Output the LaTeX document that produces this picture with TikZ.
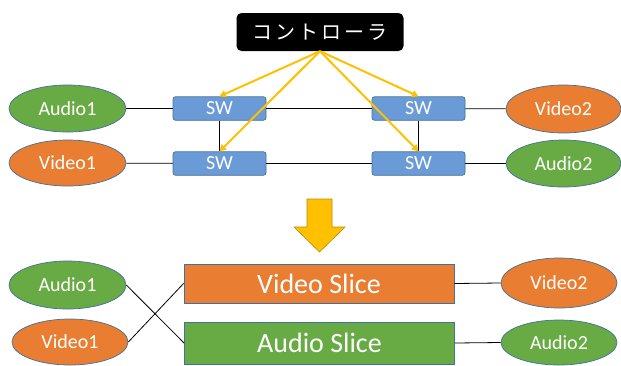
\documentclass[tikz,border=0pt]{standalone}
\usepackage{fontspec}
\setmainfont{Carlito}
\newfontfamily\jpfont{Noto Sans CJK JP}[LetterSpace=15]
\usetikzlibrary{shapes.geometric,arrows.meta}

\definecolor{ofgreen}{HTML}{68AB44}
\definecolor{oforange}{HTML}{E97D31}
\definecolor{ofblue}{HTML}{6A9BD6}
\definecolor{ofedge}{HTML}{41719C}
\definecolor{ofgold}{HTML}{FFC000}
\definecolor{ofgoldedge}{HTML}{BC8C00}

\tikzset{
  every node/.style={text=white, inner sep=0pt},
  ctrlbox/.style={rectangle, rounded corners=5pt, fill=black,
    minimum width=167pt, minimum height=38pt},
  swbox/.style={rectangle, rounded corners=2.5pt, fill=ofblue, draw=ofedge,
    line width=0.7pt, minimum width=93pt, minimum height=23.5pt,
    font=\fontsize{20}{24}\selectfont},
  host/.style={ellipse, draw=ofedge, line width=0.7pt,
    font=\fontsize{20}{24}\selectfont},
  greenhost/.style={host, fill=ofgreen},
  orangehost/.style={host, fill=oforange},
  slicebox/.style={rectangle, draw=ofedge, line width=0.9pt,
    minimum width=270pt, font=\fontsize{28}{32}\selectfont},
  wire/.style={draw=black, line width=0.8pt},
  ctrlarrow/.style={draw=ofgold, line width=2pt,
    -{Triangle[length=6.5pt,width=7pt]}},
}

\begin{document}
\begin{tikzpicture}[x=1pt, y=-1pt]
  \useasboundingbox (0,0) rectangle (621,365);

  % ---- upper network: controller, switches and hosts ----
  \node[ctrlbox] (ctrl) at (320,32) {\jpfont\fontsize{20}{24}\selectfont コントローラ};

  \node[swbox] (swtl) at (219.5,108.5) {SW};
  \node[swbox] (swtr) at (418.5,108.5) {SW};
  \node[swbox] (swbl) at (219.5,163.5) {SW};
  \node[swbox] (swbr) at (418.5,163.5) {SW};

  \node[greenhost,  minimum width=117pt, minimum height=47pt] (a1) at (67.5,108.5) {Audio1};
  \node[orangehost, minimum width=117pt, minimum height=46pt] (v1) at (67.5,163) {Video1};
  \node[orangehost, minimum width=115pt, minimum height=48pt] (v2) at (563.5,109) {Video2};
  \node[greenhost,  minimum width=115pt, minimum height=47pt] (a2) at (563.5,163.5) {Audio2};

  \draw[wire] (a1) -- (swtl);
  \draw[wire] (v1) -- (swbl);
  \draw[wire] (swtl) -- (swtr);
  \draw[wire] (swbl) -- (swbr);
  \draw[wire] (swtr) -- (v2);
  \draw[wire] (swbr) -- (a2);
  \draw[wire] (swtl) -- (swbl);
  \draw[wire] (swtr) -- (swbr);

  % controller to every switch
  \draw[ctrlarrow] (ctrl.south) -- (swtl.north);
  \draw[ctrlarrow] (ctrl.south) -- (swbl.north);
  \draw[ctrlarrow] (ctrl.south) -- (swtr.north);
  \draw[ctrlarrow] (ctrl.south) -- (swbr.north);

  % ---- transition arrow ----
  \filldraw[fill=ofgold, draw=ofgoldedge, line width=0.6pt]
    (307,199) -- (332,199) -- (332,227) -- (345,227) -- (319.5,252)
    -- (294,227) -- (307,227) -- cycle;

  % ---- lower network: slices ----
  \node[slicebox, fill=oforange, minimum height=39pt] (vslice) at (319,283.5) {Video Slice};
  \node[slicebox, fill=ofgreen,  minimum height=42pt] (aslice) at (319.5,343) {Audio Slice};

  \node[greenhost,  minimum width=117pt, minimum height=48pt] (a1b) at (67.5,285) {Audio1};
  \node[orangehost, minimum width=116pt, minimum height=46pt] (v1b) at (70,342) {Video1};
  \node[orangehost, minimum width=116pt, minimum height=50pt] (v2b) at (559,283) {Video2};
  \node[greenhost,  minimum width=116pt, minimum height=45pt] (a2b) at (559,342.5) {Audio2};

  \draw[wire] (a1b.east) -- (aslice.west);
  \draw[wire] (v1b.east) -- (vslice.west);
  \draw[wire] (vslice.east) -- (v2b.west);
  \draw[wire] (aslice.east) -- (a2b.west);
\end{tikzpicture}
\end{document}
